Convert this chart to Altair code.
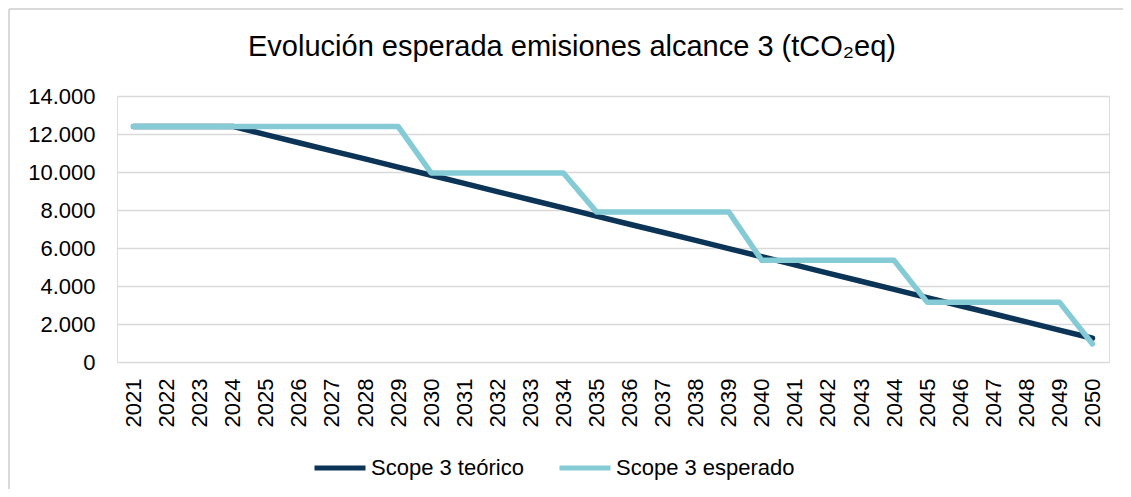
import altair as alt
import pandas as pd

years = ["2021", "2022", "2023", "2024", "2025", "2026", "2027", "2028", "2029", "2030",
         "2031", "2032", "2033", "2034", "2035", "2036", "2037", "2038", "2039", "2040",
         "2041", "2042", "2043", "2044", "2045", "2046", "2047", "2048", "2049", "2050"]

teorico = [12400, 12400, 12400, 12400, 11970, 11540, 11110, 10690, 10260, 9830,
           9400, 8970, 8540, 8110, 7680, 7250, 6830, 6400, 5970, 5540,
           5110, 4680, 4250, 3820, 3390, 2960, 2540, 2110, 1680, 1250]

esperado = [12400, 12400, 12400, 12400, 12400, 12400, 12400, 12400, 12400, 9950,
            9950, 9950, 9950, 9950, 7900, 7900, 7900, 7900, 7900, 5350,
            5350, 5350, 5350, 5350, 3150, 3150, 3150, 3150, 3150, 950]

series_names = ["Scope 3 teórico", "Scope 3 esperado"]
series_colors = ["#0b3457", "#84cbd5"]
y_ticks = [0, 2000, 4000, 6000, 8000, 10000, 12000, 14000]
title = "Evolución esperada emisiones alcance 3 (tCO₂eq)"

df_t = pd.DataFrame({"year": years, "value": teorico, "serie": series_names[0]})
df_e = pd.DataFrame({"year": years, "value": esperado, "serie": series_names[1]})
df_one = pd.DataFrame({"t": [title]})

FONT = "Liberation Sans"
PAD_L, PAD_T = 109, 88
W, H = 992, 266

color = alt.Color(
    "serie:N",
    scale=alt.Scale(domain=series_names, range=series_colors),
    legend=alt.Legend(
        title=None, orient="none", direction="horizontal",
        legendX=195, legendY=344,
        symbolType="stroke", symbolSize=2601, symbolStrokeWidth=5,
        labelFont=FONT, labelFontSize=22, labelColor="#000000",
        labelOffset=3, columnPadding=25, labelLimit=300,
    ),
)

x = alt.X(
    "year:O",
    sort=years,
    scale=alt.Scale(type="point", padding=0.5),
    axis=alt.Axis(
        title=None, labelAngle=270, labelFont=FONT, labelFontSize=22,
        labelColor="#000000", ticks=False, domain=False, grid=False,
        labelPadding=16,
    ),
)
y = alt.Y(
    "value:Q",
    scale=alt.Scale(domain=[0, 14000], nice=False),
    axis=alt.Axis(
        title=None, values=y_ticks, labelFont=FONT, labelFontSize=22,
        labelColor="#000000", ticks=False, domain=False, grid=True,
        gridColor="#d9d9d9", gridWidth=1.5, labelPadding=22,
        labelExpr="replace(datum.label, ',', '.')",
    ),
)

line_t = alt.Chart(df_t).mark_line(strokeWidth=5.5, strokeCap="round", strokeJoin="round").encode(
    x=x, y=y, color=color
)
line_e = alt.Chart(df_e).mark_line(strokeWidth=5.5, strokeCap="round", strokeJoin="round").encode(
    x=x, y=y, color=color
)

border_top = alt.Chart(df_one).mark_rule(color="#d9d9d9", strokeWidth=2).encode(
    x=alt.value(-PAD_L + 1), x2=alt.value(W + 20), y=alt.value(-PAD_T + 1)
)
border_left = alt.Chart(df_one).mark_rule(color="#d9d9d9", strokeWidth=2).encode(
    x=alt.value(-PAD_L + 1), y=alt.value(-PAD_T + 1), y2=alt.value(H + 200)
)

title_text = alt.Chart(df_one).mark_text(
    font=FONT, fontSize=29, fontWeight="normal", color="#000000", align="center", baseline="middle"
).encode(
    x=alt.value(455), y=alt.value(-49), text="t:N"
)

chart = alt.layer(border_top, border_left, line_t, line_e, title_text).properties(
    width=W, height=H,
    padding={"left": PAD_L, "top": PAD_T, "right": 14, "bottom": 127},
    autosize=alt.AutoSizeParams(type="none"),
).configure_view(stroke=None).configure(background="white")

chart.save("out.html", embed_options={"renderer": "svg", "actions": False})
